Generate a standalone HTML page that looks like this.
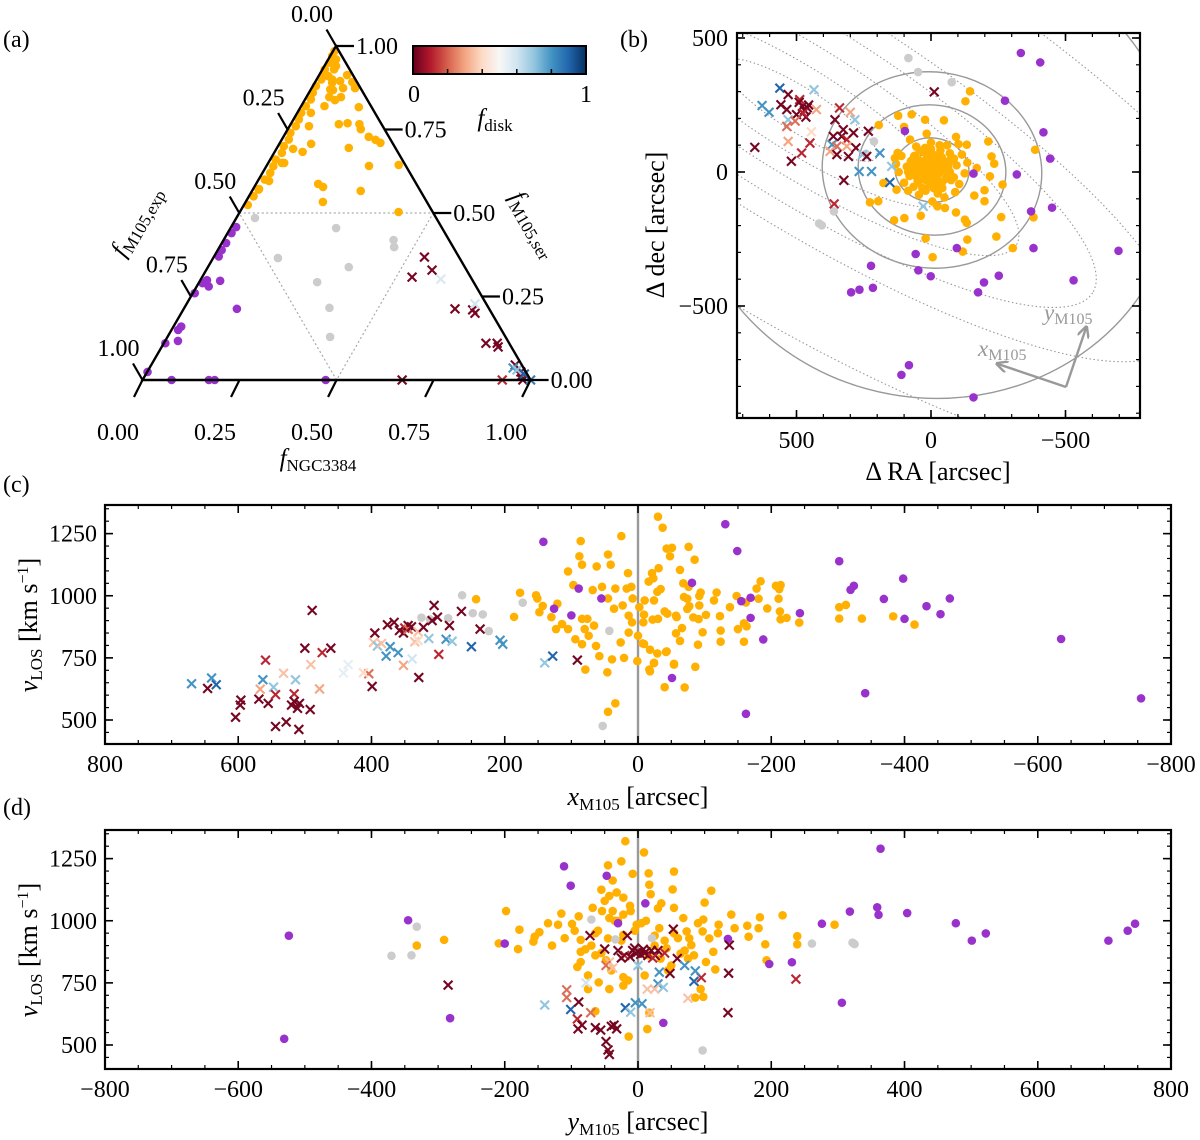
<!DOCTYPE html>
<html><head><meta charset="utf-8"><style>
html,body{margin:0;padding:0;background:#fff}
svg{display:block}
text{font-family:"Liberation Serif",serif;fill:#000}
</style></head><body>
<svg id="fig" xmlns="http://www.w3.org/2000/svg" width="1200" height="1140" viewBox="0 0 1200 1140">
<defs>
<linearGradient id="rdbu" x1="0" x2="1" y1="0" y2="0">
<stop offset="0" stop-color="#67001f"/><stop offset="0.1" stop-color="#b2182b"/><stop offset="0.2" stop-color="#d6604d"/><stop offset="0.3" stop-color="#f4a582"/><stop offset="0.4" stop-color="#fddbc7"/><stop offset="0.5" stop-color="#f7f7f7"/><stop offset="0.6" stop-color="#d1e5f0"/><stop offset="0.7" stop-color="#92c5de"/><stop offset="0.8" stop-color="#4393c3"/><stop offset="0.9" stop-color="#2166ac"/><stop offset="1" stop-color="#053061"/>
</linearGradient>
<clipPath id="clipB"><rect x="737" y="33" width="403" height="385"/></clipPath>
<clipPath id="clipC"><rect x="105" y="505" width="1066" height="239"/></clipPath>
<clipPath id="clipD"><rect x="105" y="830" width="1066" height="239"/></clipPath>
<marker id="arr" viewBox="0 0 10 10" refX="8" refY="5" markerWidth="5" markerHeight="5" orient="auto"><path d="M0,0 L10,5 L0,10" fill="none" stroke="#999" stroke-width="2"/></marker>
</defs>
<text x="3" y="47" font-size="24">(a)</text>
<text x="620" y="47" font-size="24">(b)</text>
<text x="3" y="492" font-size="24">(c)</text>
<text x="3" y="815" font-size="24">(d)</text>
<g id="pa"></g>
<g id="pb"></g>
<g id="pc"></g>
<g id="pd"></g>
</svg>
<script>
// ---------- DATA ----------
// Panel (a) ternary: n = f_NGC3384, s = f_M105,ser
const triOrangeN=[0.004,0.005,0.008,0.006,0.01,0.012,0.008,0.01,0.015,0.012,0.01,0.014,0.016,0.012,0.018,0.015,0.02,0.014,0.018,0.02,0.016,0.015,0.012,0.072,0.063,0.096,0.081,0.058,0.112,0.059,0.089,0.078,0.15,0.124,0.145,0.177,0.188,0.22,0.242,0.259,0.082,0.072,0.043,0.185,0.264,0.339,0.041,0.035,0.029,0.015,0.16,0.177,0.28,0.199,0.409,0.01,0.03,0.04,0.05,0.02,0.03,0.025,0.045,0.06,0.035,0.05];
const triOrangeS=[0.985,0.97,0.95,0.93,0.92,0.9,0.88,0.86,0.84,0.82,0.8,0.78,0.76,0.74,0.72,0.7,0.68,0.66,0.64,0.62,0.6,0.57,0.55,0.913,0.895,0.892,0.874,0.868,0.874,0.847,0.847,0.838,0.817,0.766,0.769,0.766,0.751,0.728,0.719,0.71,0.707,0.683,0.692,0.695,0.641,0.644,0.65,0.65,0.596,0.572,0.587,0.578,0.566,0.533,0.503,0.524,0.94,0.9,0.87,0.96,0.93,0.91,0.89,0.82,0.8,0.76];
const triPurpleN=[0.013,0.01,0.01,0.012,0.011,0.017,0.01,0.005,0.031,0.052,0.137,0.017,0.02,0.033,0.004,0.001,0.075,0.171,0.186,0.472];
const triPurpleS=[0.458,0.44,0.389,0.37,0.41,0.299,0.29,0.26,0.28,0.297,0.213,0.15,0.16,0.117,0.11,0.024,0,0,0,0];
const triGrayN=[0.048,0.272,0.438,0.45,0.167,0.363,0.304,0.374,0.419];
const triGrayS=[0.485,0.455,0.419,0.398,0.365,0.338,0.293,0.216,0.129];
const triCrossN=[0.543,0.582,0.541,0.618,0.699,0.746,0.757,0.743,0.83,0.859,0.867,0.938,0.669,0.927,0.937,0.963,0.97,0.98,1.0,0.975,0.95];
const triCrossS=[0.368,0.329,0.308,0.302,0.213,0.21,0.2,0.228,0.11,0.11,0.099,0.045,0,0,0.036,0.024,0.012,0,0,0.018,0.03];
const triCrossF=[0.02,0.02,0.02,0.58,0.02,0.02,0.02,0.6,0.02,0.02,0.02,0.02,0.02,0.12,0.8,0.02,0.02,0.02,0.85,0.9,0.7];

// Panel (b) sky positions [arcsec]
const skyOrangeRA=[-145,-128,122,72,22,-48,194,100,-93,-133,-102,-213,16,78,-225,-235,-170,-219,-266,-199,-161,-199,177,128,227,196,137,99,38,-24,-52,-93,-126,-133,-261,-387,-381,20,-6,-118,-135,-243,-304,124,134,
0,10,-15,25,-30,40,-45,50,-55,15,-20,60,-65,5,-10,70,-75,80,-85,30,-35,90,-95,20,-25,100,-105,55,-60,110,-115,45,-50,120,-125,0,-5,85,-90,35,-40,65,-70,130,-135,
5,-5,15,-15,25,-25,35,-35,45,-45,10,-10,20,-20,30,-30,40,-40,50,-50,0,8,-8,18,-18,28,-28,38,-38,55,-55,60,-60,3,-3,12,-12,
70,-70,75,-75,65,-65,2,-2,22,-22,42,-42,62,-62,48,-48,32,-32,85,-85];
const skyOrangeDec=[301,264,210,215,195,193,175,168,131,102,104,114,143,121,58,31,15,-16,-47,-68,-88,-109,-41,-66,-113,-109,-180,-172,-163,-128,-134,-151,-178,-190,-168,83,-169,-248,-318,-297,-252,-241,-284,71,52,
0,20,15,-10,-5,30,35,-30,-25,55,60,10,5,-45,-60,45,50,-15,-20,75,80,20,25,-70,-80,-40,-45,95,100,60,65,-85,-95,0,-5,110,-110,-70,-75,-20,-40,-55,70,30,35,
10,30,50,40,-10,60,20,0,45,15,70,-20,-30,35,25,-35,5,55,-15,40,85,40,65,5,-25,75,50,-10,25,20,5,60,0,-30,45,30,-45,
20,0,40,-30,-10,35,-20,55,90,-50,80,-60,60,20,-40,10,-60,100,0,50];
const skyPurpleRA=[-334,-406,-275,-418,-443,-319,-158,-372,-450,97,-381,-697,-96,57,47,1,223,297,266,216,-197,-175,-252,-530,82,110,-158];
const skyPurpleDec=[444,409,266,148,50,-9,-6,-147,-133,153,-284,-294,-284,-306,-367,-389,-350,-449,-439,-432,-412,-449,-387,-404,-721,-757,-841];
const skyGrayRA=[84,48,-77,212,242,416,406,361];
const skyGrayDec=[425,373,335,114,68,-192,-199,-147];
const skyCrossRA=[562,628,602,435,558,531,536,500,470,465,478,460,475,455,426,488,531,536,531,481,519,655,450,357,340,300,283,326,363,332,313,288,368,350,313,375,350,307,279,254,233,239,190,221,267,146,153,324,360,-12,29,490,505,445];
const skyCrossDec=[313,248,223,307,251,289,233,214,230,205,245,240,220,250,233,270,195,170,114,71,40,92,108,195,239,223,195,158,133,133,121,146,102,96,96,77,65,58,90,65,152,58,71,2,2,21,-39,-31,-119,299,-128,260,190,150];
const skyCrossF=[0.9,0.8,0.8,0.7,0.02,0.02,0.02,0.02,0.02,0.02,0.02,0.02,0.12,0.02,0.3,0.12,0.7,0.22,0.3,0.12,0.02,0.02,0.12,0.02,0.12,0.3,0.7,0.02,0.02,0.02,0.12,0.02,0.8,0.22,0.3,0.3,0.02,0.02,0.02,0.7,0.02,0.02,0.8,0.8,0.8,0.7,0.9,0.02,0.12,0.02,0.7,0.02,0.22,0.4];

// Panel (c) x_M105 vs v_LOS
const cOrangeX=[243,186,177,153,151,143,148,130,121,105,97,86,88,84,84,80,74,84,79,68,62,54,45,41,25,45,36,39,46,45,34,26,21,14,9,17,10,15,1,-7,-17,-24,-30,-37,-43,-51,-48,-31,-23,-29,-40,-40,-42,-54,-57,-63,114,105,94,123,76,66,63,58,34,23,14,8,0,-8,
-76,-85,-68,-76,-94,-92,-69,-74,-77,-92,-74,-83,-91,-102,-97,-90,-86,-70,-63,-66,-57,-58,-44,-54,-43,-29,-24,-18,-18,-9,-22,-30,-34,-21,-16,-24,-10,-2,-9,-118,-114,-123,-124,-124,-138,-148,-150,-159,-159,-163,-162,-178,-181,-184,-194,-207,-212,-214,-211,-213,-214,-223,-242,-302,-312,-302,-336,-383,-415];
const cOrangeV=[986,915,1012,1002,989,959,934,914,968,1098,1043,1220,1159,1125,907,866,839,805,703,1023,1118,1036,1166,1125,1240,989,948,744,692,533,567,812,750,852,893,1029,1036,1091,737,808,703,730,1318,1274,1190,1193,1159,1111,1070,1016,632,937,774,723,920,1104,886,866,825,866,907,880,798,757,1029,961,920,989,839,893,
1197,1145,1050,1036,1013,999,995,988,958,961,947,913,906,923,853,803,714,631,818,870,849,914,928,726,776,768,729,696,783,806,904,907,1027,1091,1057,981,981,954,924,1013,981,918,860,815,954,999,866,815,889,877,973,1029,988,1058,949,1040,1027,1043,988,937,905,911,892,954,963,908,908,917,884];
const cPurpleX=[142,89,55,126,100,-51,-131,-149,-81,-302,-155,-169,-169,-188,-243,-162,-319,-324,-398,-369,-400,-433,-454,-468,-341,-635,-755];
const cPurpleV=[1217,1029,989,948,921,669,1288,1180,1052,1139,978,992,911,824,930,525,1024,1040,1069,987,907,958,926,989,608,826,587];
const cGrayX=[264,173,325,312,285,248,233,224,43,53];
const cGrayV=[1002,972,912,905,910,930,925,858,859,476];
const cCrossX=[670,640,633,646,604,597,596,569,555,559,563,567,547,544,532,514,516,516,508,511,520,544,528,509,492,489,500,491,478,474,461,442,435,404,399,395,397,391,385,372,378,360,352,339,376,366,358,350,345,352,345,340,330,335,329,322,314,309,306,301,299,288,279,283,265,250,237,207,203,140,128,91,412,330];
const cCrossV=[646,669,642,627,511,560,580,584,567,741,662,624,632,602,688,662,605,575,567,547,560,474,492,462,542,941,789,723,625,771,789,689,723,686,635,850,812,798,808,795,757,771,720,746,883,893,860,870,880,850,865,875,855,815,671,873,828,900,961,914,764,825,817,880,937,795,866,821,805,730,757,741,690,820];
const cCrossF=[0.8,0.8,0.9,0.02,0.02,0.02,0.02,0.02,0.02,0.12,0.8,0.3,0.7,0.12,0.35,0.7,0.12,0.02,0.02,0.02,0.02,0.02,0.02,0.02,0.02,0.02,0.02,0.35,0.3,0.12,0.02,0.55,0.55,0.22,0.02,0.02,0.35,0.7,0.35,0.8,0.8,0.8,0.3,0.6,0.02,0.02,0.02,0.12,0.02,0.02,0.22,0.02,0.35,0.35,0.02,0.02,0.7,0.02,0.02,0.02,0.12,0.8,0.7,0.02,0.02,0.9,0.02,0.8,0.8,0.7,0.9,0.02,0.4,0.4];

// Panel (d) y_M105 vs v_LOS
const dOrangeX=[-19,9,-25,54,-45,-8,16,-38,17,-55,52,110,-43,-32,-22,19,100,-68,-54,-38,-11,30,54,-198,-115,-89,-43,-22,68,140,183,217,98,121,145,164,181,239,295,239,-135,-120,-99,-178,-148,-155,-157,-180,-209,-291,-332,-129,-86,-64,-45,-22,-2,32,54,73,77,97,107,166,191,-79,-64,-48,-86,-91,-75,-59,-75,-43,-22,-22,16,34,64,80,84,102,113,116,94,86,98,17,14,-14,-64,75,43,-86,193,-5,5,-30,25,-55,40,
-60,-35,-12,12,35,60,-70,-25,25,70,-50,50,-40,-15,10,45,-95,90,-110,120];
const dOrangeV=[1320,1275,1239,1198,1223,1189,1191,1162,1145,1125,1126,1121,1100,1114,1093,1107,1073,1052,1039,1039,1039,1050,1052,1039,1029,1018,1011,1025,1011,1025,1014,1022,1005,984,970,980,970,938,984,905,990,984,987,964,954,936,916,886,909,923,900,900,923,950,929,943,984,970,950,957,929,957,929,936,905,885,861,841,834,814,780,752,725,725,739,773,861,848,868,902,861,834,875,804,725,691,694,630,564,534,636,848,889,875,841,960,990,1000,900,870,920,
960,1000,1060,1000,1070,930,900,920,940,880,1080,820,800,760,780,800,960,990,930,950];
const dPurpleX=[-524,-531,-345,-282,-200,-111,-101,-47,-30,11,38,135,197,231,276,306,318,359,361,364,404,477,501,522,706,735,746];
const dPurpleV=[940,525,1002,608,908,1219,1141,1181,990,1070,589,927,826,833,988,670,1037,1054,1024,1290,1031,990,920,949,920,960,988];
const dGrayX=[-332,-340,-370,-70,-34,21,261,322,325,97];
const dGrayV=[976,861,859,1005,925,930,908,912,906,478];
const dCrossX=[-285,-72,-50,-16,0,10,20,-5,15,53,59,48,137,136,135,237,95,86,84,70,32,30,38,14,0,-4,6,-19,-11,-140,-107,-107,-101,-89,-78,-91,-90,-84,-64,-56,-40,-32,-36,-48,-45,-43,-71,18,75,-43,-48,-38,25,-20,
-8,4,8,-3,12,26,30,-12,40,-30,22,-25];
const dCrossV=[741,940,886,940,875,870,880,890,860,966,848,788,902,789,630,765,771,798,756,820,793,746,732,725,820,670,666,650,632,661,722,691,643,673,750,605,565,580,570,560,575,565,580,514,480,462,630,630,688,834,820,810,725,860,
880,865,885,870,875,860,880,855,870,880,850,850];
const dCrossF=[0.02,0.02,0.02,0.02,0.02,0.02,0.02,0.02,0.02,0.02,0.02,0.02,0.02,0.02,0.02,0.12,0.12,0.8,0.9,0.8,0.8,0.8,0.7,0.35,0.7,0.8,0.8,0.9,0.7,0.7,0.22,0.22,0.9,0.02,0.6,0.12,0.02,0.02,0.02,0.02,0.02,0.02,0.02,0.02,0.02,0.02,0.22,0.35,0.35,0.35,0.22,0.35,0.35,0.12,
0.02,0.02,0.02,0.02,0.02,0.02,0.02,0.02,0.12,0.02,0.12,0.02];

// ---------- HELPERS ----------
const NS='http://www.w3.org/2000/svg';
const ORANGE='#ffb000', PURPLE='#9932cc', GRAY='#cccccc';
function el(tag,attrs,parent){const e=document.createElementNS(NS,tag);for(const k in attrs)e.setAttribute(k,attrs[k]);parent.appendChild(e);return e;}
const STOPS=[[103,0,31],[178,24,43],[214,96,77],[244,165,130],[253,219,199],[247,247,247],[209,229,240],[146,197,222],[67,147,195],[33,102,172],[5,48,97]];
function rdbu(f){const t=Math.max(0,Math.min(1,f))*10;const i=Math.min(9,Math.floor(t));const u=t-i;const a=STOPS[i],b=STOPS[i+1];return 'rgb('+a.map((v,k)=>Math.round(v+(b[k]-v)*u)).join(',')+')';}
function dot(p,x,y,c,name){
  const e=el('circle',{cx:x,cy:y,r:4.3,fill:c},p);
  
  
}
function cross(p,x,y,c,name){
  const s=4.4;
  const e=el('path',{d:`M${x-s},${y-s}L${x+s},${y+s}M${x+s},${y-s}L${x-s},${y+s}`,stroke:c,'stroke-width':2.1,fill:'none'},p);
  
  
}
function txt(p,x,y,s,size,anchor,name){
  const t=el('text',{x:x,y:y,'font-size':size,'text-anchor':anchor||'middle'},p);
  t.textContent=s;
  
  
  return t;
}
function fmt(v){return v<0?'\u2212'+(-v):String(v);}
function line(p,x1,y1,x2,y2,w,c,name){
  const l=el('line',{x1:x1,y1:y1,x2:x2,y2:y2,stroke:c||'#000','stroke-width':w||1.3},p);
  
  
  return l;
}
function axes(p,box,xs,ys,xMaj,xMin,yMaj,yMin,xLabY,yLabX,prefix,xl){
  for(const v of xMin){const x=xs(v);line(p,x,box.b,x,box.b-4,1.2,'#000',prefix+'-x-minor-tick');line(p,x,box.t,x,box.t+4,1.2,'#000',prefix+'-x-minor-tick');}
  for(const v of xMaj){const x=xs(v);line(p,x,box.b,x,box.b-8,1.6,'#000',prefix+'-x-major-tick');line(p,x,box.t,x,box.t+8,1.6,'#000',prefix+'-x-major-tick');txt(p,x,xLabY,fmt(xl?xl(v):v),24,'middle',prefix+'-x-tick-label');}
  for(const v of yMin){const y=ys(v);line(p,box.l,y,box.l+4,y,1.2,'#000',prefix+'-y-minor-tick');line(p,box.r,y,box.r-4,y,1.2,'#000',prefix+'-y-minor-tick');}
  for(const v of yMaj){const y=ys(v);line(p,box.l,y,box.l+8,y,1.6,'#000',prefix+'-y-major-tick');line(p,box.r,y,box.r-8,y,1.6,'#000',prefix+'-y-major-tick');txt(p,yLabX,y+8,fmt(v),24,'end',prefix+'-y-tick-label');}
  const r=el('rect',{x:box.l,y:box.t,width:box.r-box.l,height:box.b-box.t,fill:'none',stroke:'#000','stroke-width':2.2},p);
  
  
}
function rng(a,b,s){const o=[];for(let v=a;s>0?v<=b+1e-9:v>=b-1e-9;v+=s)o.push(v);return o;}

// ---------- PANEL A ----------
(function(){
  const p=document.getElementById('pa');
  const A={x:336,y:46},BL={x:142.5,y:380},BR={x:530.6,y:380};
  const T=(n,s)=>{const e=1-n-s;return [n*BR.x+s*A.x+e*BL.x,n*BR.y+s*A.y+e*BL.y];};
  const d1=T(0,0.5),d2=T(0.5,0.5),d3=T(0.5,0);
  const dt=el('path',{d:`M${d1[0]},${d1[1]}L${d2[0]},${d2[1]}L${d3[0]},${d3[1]}Z`,fill:'none',stroke:'#aaa','stroke-width':1.2,'stroke-dasharray':'2,2.5'},p);
  
  
  for(let i=0;i<triOrangeN.length;i++){const q=T(triOrangeN[i],triOrangeS[i]);dot(p,q[0],q[1],ORANGE,'ternary-point-m105-ser');}
  for(let i=0;i<triGrayN.length;i++){const q=T(triGrayN[i],triGrayS[i]);dot(p,q[0],q[1],GRAY,'ternary-point-mixed');}
  for(let i=0;i<triPurpleN.length;i++){const q=T(triPurpleN[i],triPurpleS[i]);dot(p,q[0],q[1],PURPLE,'ternary-point-m105-exp');}
  for(let i=0;i<triCrossN.length;i++){const q=T(triCrossN[i],triCrossS[i]);cross(p,q[0],q[1],rdbu(triCrossF[i]),'ternary-point-ngc3384');}
  const tri=el('path',{d:`M${A.x},${A.y}L${BR.x},${BR.y}L${BL.x},${BL.y}Z`,fill:'none',stroke:'#000','stroke-width':2.4,'stroke-linejoin':'miter'},p);
  
  
  const ticks=[0,0.25,0.5,0.75,1];
  const labs=['0.00','0.25','0.50','0.75','1.00'];
  ticks.forEach((t,i)=>{
    let q=T(t,0);line(p,q[0],q[1],q[0]-8.5,q[1]+17,2.2,'#000','ngc3384-axis-tick');
    txt(p,q[0]-24.5,q[1]+60,labs[i],24,'middle','ngc3384-axis-tick-label');
    q=T(1-t,t);line(p,q[0],q[1],q[0]+18,q[1],2.2,'#000','m105-ser-axis-tick');
    txt(p,q[0]+20,q[1]+8,labs[i],24,'start','m105-ser-axis-tick-label');
    q=T(0,1-t);line(p,q[0],q[1],q[0]-9.5,q[1]-16.5,2.2,'#000','m105-exp-axis-tick');
    txt(p,q[0]-24,q[1]-24,labs[i],24,'middle','m105-exp-axis-tick-label');
  });
  let t=txt(p,318,466,'',25,'middle','ngc3384-axis-title');
  t.innerHTML='<tspan font-style="italic">f</tspan><tspan font-size="17" dy="5">NGC3384</tspan>';
  t=txt(p,0,0,'',25,'middle','m105-exp-axis-title');
  t.setAttribute('transform','translate(143,225) rotate(-60)');
  t.innerHTML='<tspan font-style="italic">f</tspan><tspan font-size="17" dy="5">M105,exp</tspan>';
  t=txt(p,0,0,'',25,'middle','m105-ser-axis-title');
  t.setAttribute('transform','translate(527,228) rotate(60)');
  t.innerHTML='<tspan font-style="italic">f</tspan><tspan font-size="17" dy="5">M105,ser</tspan>';
  const cb=el('rect',{x:413,y:46,width:173,height:28,fill:'url(#rdbu)',stroke:'#000','stroke-width':2},p);
  
  
  [0.2,0.4,0.6,0.8].forEach(v=>line(p,413+173*v,74,413+173*v,69,1.5,'#000','colorbar-tick'));
  txt(p,414,102,'0',24,'middle','colorbar-min-label');
  txt(p,586,102,'1',24,'middle','colorbar-max-label');
  t=txt(p,495,126,'',25,'middle','colorbar-title');
  t.innerHTML='<tspan font-style="italic">f</tspan><tspan font-size="17" dy="5">disk</tspan>';
})();

// ---------- PANEL B ----------
(function(){
  const p=document.getElementById('pb');
  const box={l:737,t:33,r:1140,b:418};
  const xs=v=>931-v*0.269, ys=v=>172-v*0.268;
  const g=el('g',{'clip-path':'url(#clipB)'},p);
  
  
  [[90,22],[170,42],[255,64],[345,88],[440,112],[620,200]].forEach(r=>{
    const e=el('ellipse',{cx:800,cy:110,rx:r[0],ry:r[1],transform:'rotate(32 800 110)',fill:'none',stroke:'#999','stroke-width':1.1,'stroke-dasharray':'1.5,2.5'},g);
    
    
  });
  [[20,17],[37,32],[74,65],[110,98],[246,228]].forEach(r=>{
    const e=el('ellipse',{cx:932,cy:170,rx:r[0],ry:r[1],transform:'rotate(8 932 170)',fill:'none',stroke:'#999','stroke-width':1.4},g);
    
    
  });
  for(let i=0;i<skyOrangeRA.length;i++)dot(g,xs(skyOrangeRA[i]),ys(skyOrangeDec[i]),ORANGE,'sky-point-m105-ser');
  for(let i=0;i<skyGrayRA.length;i++)dot(g,xs(skyGrayRA[i]),ys(skyGrayDec[i]),GRAY,'sky-point-mixed');
  for(let i=0;i<skyPurpleRA.length;i++)dot(g,xs(skyPurpleRA[i]),ys(skyPurpleDec[i]),PURPLE,'sky-point-m105-exp');
  for(let i=0;i<skyCrossRA.length;i++)cross(g,xs(skyCrossRA[i]),ys(skyCrossDec[i]),rdbu(skyCrossF[i]),'sky-point-ngc3384');
  let a=el('line',{x1:1066,y1:387,x2:998,y2:364,stroke:'#999','stroke-width':2.4,'marker-end':'url(#arr)'},p);
  
  
  a=el('line',{x1:1066,y1:387,x2:1086,y2:328,stroke:'#999','stroke-width':2.4,'marker-end':'url(#arr)'},p);
  
  
  let t=txt(p,978,356,'',23,'start','x-m105-arrow-label');
  t.innerHTML='<tspan font-style="italic" fill="#999">x</tspan><tspan font-size="16" dy="4" fill="#999">M105</tspan>';
  t=txt(p,1044,320,'',23,'start','y-m105-arrow-label');
  t.innerHTML='<tspan font-style="italic" fill="#999">y</tspan><tspan font-size="16" dy="4" fill="#999">M105</tspan>';
  axes(p,box,xs,ys,[500,0,-500],rng(700,-700,-100),[500,0,-500],rng(500,-900,-100),448,728,'sky');
  txt(p,938,480,'\u0394 RA [arcsec]',26,'middle','ra-axis-title');
  t=txt(p,0,0,'\u0394 dec [arcsec]',26,'middle','dec-axis-title');
  t.setAttribute('transform','translate(664,225) rotate(-90)');
})();

// ---------- PANELS C & D ----------
function velPanel(id,top,X,sign,OX,OV,PX,PV,GX,GV,CX,CV,CF,prefix,xTitleLetter){
  const p=document.getElementById(id);
  const box={l:105,t:top,r:1171,b:top+239};
  const y500=top+215;
  const xs=v=>638-sign*v*0.6663, ys=v=>y500-(v-500)*0.2485;
  line(p,xs(0),box.t,xs(0),box.b,2.4,'#999',prefix+'-zero-line');
  const g=el('g',{'clip-path':'url(#'+X+')'},p);
  
  
  for(let i=0;i<OX.length;i++)dot(g,xs(OX[i]),ys(OV[i]),ORANGE,prefix+'-point-m105-ser');
  for(let i=0;i<GX.length;i++)dot(g,xs(GX[i]),ys(GV[i]),GRAY,prefix+'-point-mixed');
  for(let i=0;i<PX.length;i++)dot(g,xs(PX[i]),ys(PV[i]),PURPLE,prefix+'-point-m105-exp');
  for(let i=0;i<CX.length;i++)cross(g,xs(CX[i]),ys(CV[i]),rdbu(CF[i]),prefix+'-point-ngc3384');
  axes(p,box,xs,ys,[-800,-600,-400,-200,0,200,400,600,800],rng(-800,800,50),[500,750,1000,1250],rng(450,1350,50),box.b+28,97,prefix);
  let t=txt(p,638,box.b+61,'',26,'middle',prefix+'-x-axis-title');
  t.innerHTML='<tspan font-style="italic">'+xTitleLetter+'</tspan><tspan font-size="17" dy="5">M105</tspan><tspan dy="-5"> [arcsec]</tspan>';
  t=txt(p,0,0,'',26,'middle',prefix+'-y-axis-title');
  t.setAttribute('transform','translate(37,'+(top+120)+') rotate(-90)');
  t.innerHTML='<tspan font-style="italic">v</tspan><tspan font-size="17" dy="5">LOS</tspan><tspan dy="-5"> [km s</tspan><tspan font-size="16" dy="-9">\u22121</tspan><tspan dy="9">]</tspan>';
}
velPanel('pc',505,'clipC',1,cOrangeX,cOrangeV,cPurpleX,cPurpleV,cGrayX,cGrayV,cCrossX,cCrossV,cCrossF,'xvel','x');
velPanel('pd',830,'clipD',-1,dOrangeX,dOrangeV,dPurpleX,dPurpleV,dGrayX,dGrayV,dCrossX,dCrossV,dCrossF,'yvel','y');
</script>
</body></html>
